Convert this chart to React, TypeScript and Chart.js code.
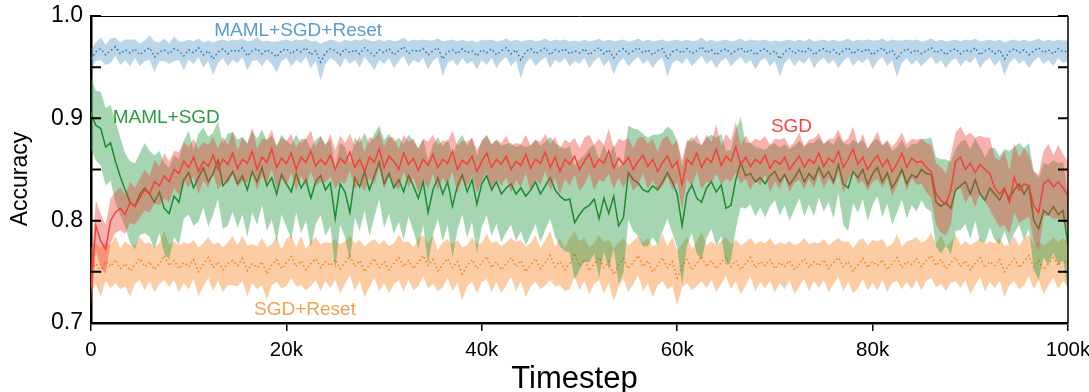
import React, { useEffect, useRef } from "react";
import { Chart, registerables } from "chart.js";

Chart.register(...registerables);

const FONT = "'Liberation Sans', Arial, Helvetica, sans-serif";
const STEP = 500;

const xTickValues = [0, 20000, 40000, 60000, 80000, 100000];
const yTickValues = [0.7, 0.75, 0.8, 0.85, 0.9, 0.95, 1.0];

const seriesNames = ["MAML+SGD+Reset", "SGD+Reset", "MAML+SGD", "SGD"];

// MAML+SGD+Reset (mean / half-width of band)
const blueMean = [
  0.958, 0.965, 0.968, 0.962, 0.966, 0.970, 0.963, 0.967, 0.964, 0.968,
  0.962, 0.966, 0.969, 0.960, 0.965, 0.967, 0.963, 0.968, 0.966, 0.961,
  0.967, 0.964, 0.969, 0.962, 0.966, 0.958, 0.965, 0.968, 0.963, 0.967,
  0.965, 0.969, 0.961, 0.966, 0.968, 0.963, 0.967, 0.964, 0.960, 0.966,
  0.968, 0.963, 0.967, 0.965, 0.969, 0.962, 0.966, 0.955, 0.964, 0.968,
  0.966, 0.962, 0.968, 0.964, 0.967, 0.963, 0.969, 0.965, 0.961, 0.967,
  0.964, 0.968, 0.962, 0.966, 0.970, 0.963, 0.967, 0.965, 0.968, 0.962,
  0.966, 0.969, 0.958, 0.965, 0.967, 0.963, 0.968, 0.964, 0.966, 0.961,
  0.967, 0.964, 0.968, 0.962, 0.966, 0.969, 0.963, 0.967, 0.957, 0.965,
  0.968, 0.963, 0.966, 0.969, 0.962, 0.967, 0.965, 0.968, 0.963, 0.966,
  0.964, 0.968, 0.962, 0.966, 0.969, 0.963, 0.967, 0.959, 0.965, 0.968,
  0.963, 0.966, 0.969, 0.964, 0.967, 0.962, 0.966, 0.968, 0.958, 0.965,
  0.967, 0.964, 0.968, 0.963, 0.966, 0.970, 0.964, 0.967, 0.962, 0.966,
  0.968, 0.963, 0.966, 0.969, 0.964, 0.967, 0.962, 0.966, 0.968, 0.963,
  0.966, 0.958, 0.965, 0.968, 0.963, 0.967, 0.964, 0.969, 0.962, 0.966,
  0.968, 0.964, 0.967, 0.962, 0.966, 0.969, 0.963, 0.967, 0.965, 0.968,
  0.962, 0.966, 0.969, 0.963, 0.967, 0.958, 0.965, 0.968, 0.964, 0.967,
  0.963, 0.966, 0.969, 0.964, 0.967, 0.962, 0.966, 0.968, 0.963, 0.967,
  0.965, 0.969, 0.962, 0.966, 0.968, 0.963, 0.967, 0.958, 0.965, 0.968,
  0.964, 0.967, 0.962, 0.966, 0.969, 0.964, 0.967, 0.963, 0.968, 0.965,
  0.966,
];
const blueSd = [
  0.010, 0.009, 0.011, 0.010, 0.012, 0.009, 0.011, 0.010, 0.013, 0.009,
  0.011, 0.010, 0.012, 0.015, 0.009, 0.011, 0.010, 0.012, 0.009, 0.014,
  0.010, 0.011, 0.009, 0.012, 0.010, 0.016, 0.011, 0.009, 0.012, 0.010,
  0.011, 0.009, 0.014, 0.010, 0.011, 0.012, 0.009, 0.011, 0.015, 0.010,
  0.009, 0.012, 0.010, 0.011, 0.009, 0.013, 0.010, 0.018, 0.011, 0.009,
  0.010, 0.012, 0.009, 0.011, 0.010, 0.013, 0.009, 0.011, 0.014, 0.010,
  0.011, 0.009, 0.013, 0.010, 0.009, 0.012, 0.010, 0.011, 0.009, 0.014,
  0.010, 0.009, 0.017, 0.011, 0.010, 0.012, 0.009, 0.011, 0.010, 0.013,
  0.010, 0.012, 0.009, 0.013, 0.010, 0.009, 0.012, 0.010, 0.018, 0.011,
  0.009, 0.012, 0.010, 0.009, 0.013, 0.010, 0.011, 0.009, 0.012, 0.010,
  0.011, 0.009, 0.013, 0.010, 0.009, 0.012, 0.010, 0.016, 0.011, 0.009,
  0.012, 0.010, 0.009, 0.011, 0.010, 0.013, 0.010, 0.009, 0.017, 0.011,
  0.010, 0.011, 0.009, 0.012, 0.010, 0.009, 0.011, 0.010, 0.013, 0.010,
  0.009, 0.012, 0.010, 0.009, 0.011, 0.010, 0.014, 0.010, 0.009, 0.012,
  0.010, 0.017, 0.011, 0.009, 0.012, 0.010, 0.011, 0.009, 0.013, 0.010,
  0.009, 0.011, 0.010, 0.013, 0.010, 0.009, 0.012, 0.010, 0.011, 0.009,
  0.014, 0.010, 0.009, 0.012, 0.010, 0.018, 0.011, 0.009, 0.012, 0.010,
  0.012, 0.010, 0.009, 0.011, 0.010, 0.013, 0.010, 0.009, 0.012, 0.010,
  0.011, 0.009, 0.013, 0.010, 0.009, 0.012, 0.010, 0.016, 0.011, 0.009,
  0.011, 0.010, 0.013, 0.010, 0.009, 0.011, 0.010, 0.012, 0.009, 0.011,
  0.010,
];

// SGD+Reset
const orangeMean = [
  0.752, 0.758, 0.750, 0.760, 0.755, 0.762, 0.753, 0.758, 0.751, 0.757,
  0.763, 0.755, 0.760, 0.752, 0.758, 0.766, 0.756, 0.761, 0.753, 0.759,
  0.755, 0.762, 0.750, 0.757, 0.764, 0.754, 0.760, 0.752, 0.758, 0.761,
  0.756, 0.763, 0.751, 0.758, 0.754, 0.760, 0.748, 0.757, 0.762, 0.753,
  0.759, 0.765, 0.755, 0.761, 0.752, 0.758, 0.763, 0.754, 0.760, 0.756,
  0.762, 0.753, 0.759, 0.766, 0.755, 0.761, 0.750, 0.757, 0.763, 0.754,
  0.760, 0.752, 0.758, 0.764, 0.755, 0.761, 0.753, 0.759, 0.766, 0.756,
  0.762, 0.751, 0.757, 0.763, 0.754, 0.760, 0.748, 0.756, 0.762, 0.753,
  0.759, 0.765, 0.754, 0.760, 0.752, 0.758, 0.764, 0.755, 0.761, 0.750,
  0.757, 0.763, 0.753, 0.759, 0.766, 0.755, 0.760, 0.752, 0.758, 0.768,
  0.756, 0.762, 0.751, 0.758, 0.764, 0.754, 0.760, 0.747, 0.757, 0.763,
  0.753, 0.759, 0.766, 0.755, 0.761, 0.750, 0.757, 0.764, 0.754, 0.760,
  0.744, 0.756, 0.762, 0.752, 0.758, 0.765, 0.755, 0.761, 0.753, 0.759,
  0.765, 0.755, 0.761, 0.752, 0.758, 0.764, 0.754, 0.760, 0.756, 0.762,
  0.753, 0.759, 0.755, 0.761, 0.752, 0.757, 0.763, 0.754, 0.760, 0.756,
  0.762, 0.753, 0.759, 0.764, 0.755, 0.760, 0.751, 0.757, 0.763, 0.754,
  0.760, 0.756, 0.762, 0.752, 0.758, 0.764, 0.754, 0.760, 0.757, 0.763,
  0.755, 0.761, 0.766, 0.756, 0.762, 0.753, 0.759, 0.764, 0.755, 0.761,
  0.752, 0.758, 0.764, 0.754, 0.760, 0.756, 0.762, 0.750, 0.757, 0.763,
  0.754, 0.760, 0.766, 0.755, 0.761, 0.752, 0.758, 0.764, 0.756, 0.762,
  0.757,
];
const orangeSd = [
  0.022, 0.020, 0.024, 0.019, 0.021, 0.023, 0.020, 0.022, 0.025, 0.019,
  0.021, 0.023, 0.019, 0.022, 0.020, 0.024, 0.021, 0.019, 0.023, 0.020,
  0.022, 0.019, 0.024, 0.021, 0.020, 0.023, 0.019, 0.022, 0.021, 0.024,
  0.020, 0.022, 0.025, 0.019, 0.021, 0.023, 0.026, 0.020, 0.022, 0.019,
  0.023, 0.021, 0.019, 0.024, 0.020, 0.022, 0.021, 0.023, 0.019, 0.022,
  0.020, 0.024, 0.021, 0.019, 0.023, 0.020, 0.025, 0.022, 0.019, 0.023,
  0.021, 0.023, 0.020, 0.022, 0.024, 0.019, 0.021, 0.023, 0.020, 0.022,
  0.024, 0.020, 0.022, 0.019, 0.023, 0.021, 0.026, 0.020, 0.022, 0.024,
  0.019, 0.022, 0.024, 0.020, 0.023, 0.021, 0.019, 0.024, 0.020, 0.025,
  0.021, 0.023, 0.020, 0.022, 0.024, 0.019, 0.023, 0.021, 0.025, 0.022,
  0.024, 0.021, 0.023, 0.020, 0.022, 0.025, 0.021, 0.026, 0.022, 0.020,
  0.023, 0.021, 0.019, 0.024, 0.022, 0.025, 0.020, 0.023, 0.021, 0.024,
  0.027, 0.021, 0.023, 0.020, 0.022, 0.024, 0.021, 0.019, 0.023, 0.021,
  0.019, 0.022, 0.020, 0.024, 0.021, 0.019, 0.023, 0.020, 0.022, 0.021,
  0.023, 0.020, 0.022, 0.019, 0.024, 0.021, 0.020, 0.023, 0.019, 0.022,
  0.020, 0.023, 0.021, 0.019, 0.024, 0.020, 0.022, 0.023, 0.020, 0.022,
  0.021, 0.024, 0.020, 0.022, 0.019, 0.023, 0.021, 0.020, 0.024, 0.021,
  0.023, 0.020, 0.022, 0.021, 0.024, 0.022, 0.020, 0.023, 0.021, 0.019,
  0.024, 0.021, 0.019, 0.023, 0.020, 0.022, 0.021, 0.025, 0.020, 0.022,
  0.021, 0.023, 0.020, 0.022, 0.019, 0.024, 0.021, 0.020, 0.023, 0.021,
  0.022,
];

// MAML+SGD
const greenMean = [
  0.905, 0.893, 0.890, 0.872, 0.876, 0.858, 0.843, 0.830, 0.818, 0.814,
  0.826, 0.832, 0.826, 0.818, 0.828, 0.812, 0.807, 0.824, 0.818, 0.840,
  0.847, 0.832, 0.842, 0.852, 0.838, 0.846, 0.859, 0.834, 0.840, 0.848,
  0.836, 0.844, 0.830, 0.848, 0.838, 0.852, 0.834, 0.842, 0.826, 0.845,
  0.836, 0.828, 0.846, 0.832, 0.840, 0.822, 0.838, 0.844, 0.830, 0.837,
  0.802, 0.836, 0.828, 0.808, 0.842, 0.833, 0.848, 0.830, 0.844, 0.857,
  0.836, 0.846, 0.832, 0.840, 0.828, 0.844, 0.834, 0.822, 0.838, 0.808,
  0.830, 0.842, 0.826, 0.838, 0.814, 0.834, 0.845, 0.828, 0.840, 0.816,
  0.836, 0.844, 0.830, 0.838, 0.826, 0.832, 0.836, 0.826, 0.832, 0.824,
  0.830, 0.838, 0.826, 0.834, 0.842, 0.830, 0.824, 0.820, 0.821, 0.798,
  0.806, 0.812, 0.815, 0.821, 0.802, 0.822, 0.807, 0.824, 0.795, 0.803,
  0.847, 0.840, 0.837, 0.830, 0.828, 0.834, 0.830, 0.838, 0.847, 0.838,
  0.826, 0.795, 0.826, 0.835, 0.822, 0.818, 0.832, 0.838, 0.828, 0.835,
  0.812, 0.815, 0.840, 0.857, 0.844, 0.846, 0.838, 0.842, 0.836, 0.844,
  0.848, 0.838, 0.845, 0.835, 0.842, 0.850, 0.838, 0.846, 0.840, 0.852,
  0.842, 0.848, 0.838, 0.855, 0.836, 0.832, 0.848, 0.842, 0.850, 0.835,
  0.846, 0.852, 0.838, 0.847, 0.832, 0.840, 0.850, 0.836, 0.845, 0.842,
  0.850, 0.846, 0.845, 0.818, 0.814, 0.818, 0.812, 0.830, 0.834, 0.838,
  0.826, 0.840, 0.826, 0.820, 0.832, 0.826, 0.820, 0.830, 0.822, 0.830,
  0.836, 0.826, 0.834, 0.800, 0.792, 0.810, 0.806, 0.814, 0.806, 0.810,
  0.776,
];
const greenSd = [
  0.035, 0.034, 0.036, 0.038, 0.037, 0.040, 0.038, 0.036, 0.040, 0.042,
  0.040, 0.044, 0.042, 0.046, 0.040, 0.044, 0.045, 0.040, 0.042, 0.038,
  0.041, 0.037, 0.043, 0.039, 0.044, 0.040, 0.038, 0.042, 0.045, 0.039,
  0.043, 0.038, 0.046, 0.040, 0.042, 0.037, 0.044, 0.041, 0.047, 0.039,
  0.042, 0.046, 0.038, 0.044, 0.040, 0.048, 0.041, 0.039, 0.045, 0.042,
  0.050, 0.040, 0.044, 0.048, 0.039, 0.043, 0.038, 0.045, 0.041, 0.036,
  0.043, 0.039, 0.045, 0.041, 0.047, 0.040, 0.044, 0.049, 0.042, 0.051,
  0.044, 0.040, 0.046, 0.042, 0.050, 0.043, 0.039, 0.045, 0.041, 0.048,
  0.042, 0.039, 0.045, 0.041, 0.047, 0.043, 0.040, 0.046, 0.042, 0.048,
  0.044, 0.041, 0.047, 0.043, 0.040, 0.046, 0.049, 0.050, 0.052, 0.056,
  0.054, 0.052, 0.056, 0.053, 0.058, 0.052, 0.055, 0.051, 0.057, 0.054,
  0.046, 0.050, 0.052, 0.055, 0.053, 0.050, 0.054, 0.048, 0.045, 0.050,
  0.052, 0.058, 0.050, 0.047, 0.054, 0.056, 0.049, 0.046, 0.053, 0.050,
  0.056, 0.054, 0.048, 0.044, 0.032, 0.030, 0.034, 0.029, 0.033, 0.030,
  0.028, 0.033, 0.030, 0.035, 0.031, 0.028, 0.034, 0.030, 0.036, 0.029,
  0.033, 0.030, 0.036, 0.028, 0.040, 0.042, 0.031, 0.034, 0.029, 0.035,
  0.031, 0.028, 0.035, 0.030, 0.036, 0.032, 0.029, 0.034, 0.030, 0.033,
  0.030, 0.034, 0.036, 0.044, 0.046, 0.042, 0.045, 0.040, 0.043, 0.041,
  0.044, 0.040, 0.046, 0.042, 0.039, 0.045, 0.043, 0.040, 0.046, 0.042,
  0.040, 0.045, 0.042, 0.048, 0.050, 0.046, 0.049, 0.045, 0.050, 0.047,
  0.048,
];

// SGD
const redMean = [
  0.735, 0.795, 0.780, 0.772, 0.800, 0.808, 0.812, 0.806, 0.818, 0.814,
  0.822, 0.830, 0.826, 0.838, 0.834, 0.844, 0.838, 0.850, 0.846, 0.858,
  0.852, 0.862, 0.848, 0.858, 0.853, 0.864, 0.850, 0.860, 0.855, 0.866,
  0.851, 0.860, 0.856, 0.868, 0.850, 0.862, 0.857, 0.870, 0.852, 0.861,
  0.856, 0.866, 0.850, 0.862, 0.857, 0.868, 0.853, 0.860, 0.855, 0.864,
  0.850, 0.861, 0.856, 0.867, 0.852, 0.860, 0.848, 0.862, 0.857, 0.870,
  0.852, 0.863, 0.858, 0.850, 0.866, 0.855, 0.861, 0.849, 0.860, 0.854,
  0.865, 0.852, 0.860, 0.856, 0.868, 0.850, 0.859, 0.855, 0.863, 0.848,
  0.858, 0.866, 0.852, 0.860, 0.855, 0.863, 0.850, 0.858, 0.854, 0.865,
  0.851, 0.860, 0.856, 0.867, 0.852, 0.862, 0.848, 0.860, 0.855, 0.863,
  0.850, 0.858, 0.865, 0.852, 0.860, 0.856, 0.868, 0.851, 0.861, 0.855,
  0.862, 0.850, 0.858, 0.864, 0.853, 0.860, 0.848, 0.857, 0.863, 0.852,
  0.858, 0.835, 0.860, 0.855, 0.866, 0.852, 0.861, 0.857, 0.870, 0.854,
  0.863, 0.858, 0.872, 0.855, 0.862, 0.853, 0.860, 0.856, 0.864, 0.851,
  0.859, 0.855, 0.862, 0.850, 0.857, 0.863, 0.852, 0.860, 0.856, 0.866,
  0.853, 0.861, 0.857, 0.868, 0.852, 0.860, 0.870, 0.855, 0.862, 0.850,
  0.858, 0.864, 0.853, 0.860, 0.848, 0.856, 0.866, 0.852, 0.861, 0.857,
  0.858, 0.852, 0.848, 0.826, 0.820, 0.816, 0.830, 0.858, 0.862, 0.850,
  0.856, 0.847, 0.855, 0.850, 0.846, 0.832, 0.826, 0.832, 0.818, 0.842,
  0.830, 0.836, 0.834, 0.814, 0.808, 0.836, 0.840, 0.833, 0.838, 0.832,
  0.824,
];
const redSd = [
  0.020, 0.025, 0.026, 0.024, 0.022, 0.020, 0.021, 0.019, 0.020, 0.018,
  0.019, 0.020, 0.018, 0.021, 0.019, 0.022, 0.020, 0.018, 0.021, 0.019,
  0.020, 0.018, 0.022, 0.019, 0.021, 0.018, 0.020, 0.022, 0.019, 0.021,
  0.018, 0.021, 0.019, 0.023, 0.020, 0.018, 0.022, 0.019, 0.021, 0.020,
  0.022, 0.019, 0.021, 0.018, 0.023, 0.020, 0.019, 0.022, 0.018, 0.021,
  0.019, 0.022, 0.020, 0.018, 0.021, 0.023, 0.019, 0.020, 0.022, 0.018,
  0.021, 0.019, 0.023, 0.020, 0.018, 0.022, 0.019, 0.021, 0.020, 0.023,
  0.019, 0.022, 0.018, 0.021, 0.020, 0.023, 0.019, 0.022, 0.018, 0.021,
  0.020, 0.018, 0.022, 0.019, 0.021, 0.020, 0.023, 0.018, 0.021, 0.019,
  0.022, 0.019, 0.021, 0.018, 0.023, 0.020, 0.022, 0.019, 0.021, 0.018,
  0.021, 0.023, 0.019, 0.022, 0.020, 0.018, 0.022, 0.020, 0.019, 0.023,
  0.019, 0.021, 0.023, 0.018, 0.022, 0.020, 0.019, 0.023, 0.020, 0.022,
  0.020, 0.024, 0.019, 0.022, 0.018, 0.021, 0.023, 0.020, 0.024, 0.019,
  0.022, 0.020, 0.025, 0.019, 0.021, 0.023, 0.020, 0.022, 0.019, 0.023,
  0.021, 0.024, 0.019, 0.022, 0.020, 0.023, 0.021, 0.019, 0.024, 0.020,
  0.022, 0.019, 0.023, 0.021, 0.025, 0.020, 0.022, 0.019, 0.023, 0.021,
  0.020, 0.023, 0.021, 0.019, 0.024, 0.022, 0.020, 0.023, 0.019, 0.022,
  0.022, 0.024, 0.026, 0.030, 0.032, 0.030, 0.034, 0.028, 0.030, 0.033,
  0.030, 0.034, 0.028, 0.031, 0.035, 0.030, 0.033, 0.036, 0.031, 0.034,
  0.032, 0.035, 0.030, 0.034, 0.037, 0.032, 0.035, 0.031, 0.036, 0.033,
  0.034,
];

// Inline label positions in data units [timestep, accuracy]
const labelX = [21200, 21900, 7700, 71700];
const labelY = [0.986, 0.713, 0.901, 0.892];

const lineColors = ["#2a7ab8", "#f7811a", "#1f8a2f", "#f2413a"];
const fillColors = [
  "rgba(31,119,180,0.30)",
  "rgba(248,130,30,0.40)",
  "rgba(40,155,70,0.42)",
  "rgba(238,60,50,0.40)",
];
const labelColors = ["#5b9bd0", "#f5a050", "#2a9a40", "#f4463c"];
const dashes = [[1.6, 2.6], [1.6, 2.6], [], []];

function toPoints(vals: number[]) {
  return vals.map((v, i) => ({ x: i * STEP, y: v }));
}

export default function App() {
  const ref = useRef<HTMLCanvasElement | null>(null);

  useEffect(() => {
    if (!ref.current) return;
    const means = [blueMean, orangeMean, greenMean, redMean];
    const sds = [blueSd, orangeSd, greenSd, redSd];
    // draw order: orange, blue, green, red (red on top)
    const drawRank = [2, 1, 3, 4];
    const datasets: any[] = [];
    for (let s = 0; s < 4; s++) {
      const m = means[s];
      const sd = sds[s];
      const lower = m.map((v, i) => v - sd[i]);
      const upper = m.map((v, i) => v + sd[i]);
      const base = 100 - drawRank[s] * 10;
      datasets.push({
        label: seriesNames[s] + " lower",
        data: toPoints(lower),
        borderWidth: 0,
        borderColor: "rgba(0,0,0,0)",
        pointRadius: 0,
        fill: false,
        order: base + 2,
      });
      datasets.push({
        label: seriesNames[s] + " upper",
        data: toPoints(upper),
        borderWidth: 0,
        borderColor: "rgba(0,0,0,0)",
        backgroundColor: fillColors[s],
        pointRadius: 0,
        fill: "-1",
        order: base + 1,
      });
      datasets.push({
        label: seriesNames[s],
        data: toPoints(m),
        borderColor: lineColors[s],
        borderWidth: 1.5,
        borderDash: dashes[s],
        pointRadius: 0,
        fill: false,
        order: base,
      });
    }

    const decor = {
      id: "decor",
      afterDraw(chart: any) {
        const { ctx, chartArea } = chart;
        const xs = chart.scales.x;
        const ys = chart.scales.y;
        ctx.save();
        // top and right spines
        ctx.strokeStyle = "#000";
        ctx.lineWidth = 1;
        ctx.beginPath();
        ctx.moveTo(chartArea.left, chartArea.top + 0.5);
        ctx.lineTo(chartArea.right, chartArea.top + 0.5);
        ctx.stroke();
        ctx.lineWidth = 1.5;
        ctx.beginPath();
        ctx.moveTo(chartArea.right, chartArea.top);
        ctx.lineTo(chartArea.right, chartArea.bottom);
        ctx.stroke();
        // inward y ticks on both sides
        ctx.lineWidth = 2;
        for (const t of ys.ticks) {
          const py = ys.getPixelForValue(t.value);
          ctx.beginPath();
          ctx.moveTo(chartArea.left, py);
          ctx.lineTo(chartArea.left + 10, py);
          ctx.moveTo(chartArea.right - 10, py);
          ctx.lineTo(chartArea.right, py);
          ctx.stroke();
        }
        // inline series labels
        ctx.font = "19px " + FONT;
        ctx.textAlign = "center";
        ctx.textBaseline = "middle";
        for (let s = 0; s < 4; s++) {
          ctx.fillStyle = labelColors[s];
          ctx.fillText(
            seriesNames[s],
            xs.getPixelForValue(labelX[s]),
            ys.getPixelForValue(labelY[s])
          );
        }
        // axis titles
        ctx.fillStyle = "#000";
        ctx.font = "31px " + FONT;
        ctx.textAlign = "center";
        ctx.textBaseline = "alphabetic";
        ctx.fillText("Timestep", (chartArea.left + chartArea.right) / 2 - 5, 388);
        ctx.save();
        ctx.translate(27, 179);
        ctx.rotate(-Math.PI / 2);
        ctx.font = "23px " + FONT;
        ctx.fillText("Accuracy", 0, 0);
        ctx.restore();
        ctx.restore();
      },
    };

    const chart = new Chart(ref.current, {
      type: "line",
      data: { datasets },
      options: {
        animation: false,
        responsive: false,
        maintainAspectRatio: false,
        devicePixelRatio: 1,
        layout: { padding: { left: 0, right: 21, top: 16, bottom: 0 } },
        plugins: {
          legend: { display: false },
          tooltip: { enabled: false },
          filler: { propagate: false },
        },
        elements: { point: { radius: 0 }, line: { tension: 0 } },
        scales: {
          x: {
            type: "linear",
            min: 0,
            max: 100000,
            afterBuildTicks: (s: any) => {
              s.ticks = xTickValues.map((v) => ({ value: v }));
            },
            afterFit: (s: any) => {
              s.height = 69;
              s.paddingLeft = 0;
              s.paddingRight = 0;
            },
            ticks: {
              autoSkip: false,
              maxRotation: 0,
              padding: 7,
              color: "#000",
              font: { size: 20.5, family: FONT },
              callback: (v: any) => (v === 0 ? "0" : Number(v) / 1000 + "k"),
            },
            grid: {
              display: true,
              drawOnChartArea: false,
              drawTicks: true,
              tickLength: 8,
              color: "#000",
              lineWidth: 1.5,
            },
            border: { display: true, color: "#000", width: 2.5 },
          },
          y: {
            type: "linear",
            min: 0.7,
            max: 1.0,
            afterBuildTicks: (s: any) => {
              s.ticks = yTickValues.map((v) => ({ value: v }));
            },
            afterFit: (s: any) => {
              s.width = 91;
              s.paddingTop = 0;
              s.paddingBottom = 0;
            },
            ticks: {
              autoSkip: false,
              padding: 8,
              color: "#000",
              font: { size: 23, family: FONT },
              callback: (v: any) => {
                const r = Math.round(Number(v) * 100);
                return r % 10 === 0 ? (r / 100).toFixed(1) : "";
              },
            },
            grid: { display: false, drawTicks: false },
            border: { display: true, color: "#000", width: 2.5 },
          },
        },
      },
      plugins: [decor],
    });
    return () => chart.destroy();
  }, []);

  return (
    <div style={{ position: "fixed", left: 0, top: 0, width: 1089, height: 392, background: "#fff" }}>
      <canvas ref={ref} width={1089} height={392} style={{ width: 1089, height: 392 }} />
    </div>
  );
}
